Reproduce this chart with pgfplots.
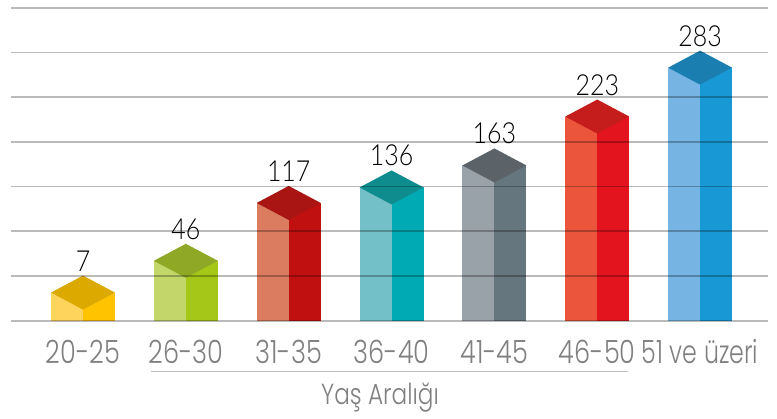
\documentclass[border=0pt]{standalone}
\usepackage{fontspec}
\usepackage{pgfplots}
\pgfplotsset{compat=1.18}
\newfontfamily\tickfont{Poppins Light}[FakeStretch=0.8]
\newfontfamily\tickfontn{Poppins Light}[FakeStretch=0.74]
\newfontfamily\valfont{Lato Light}[FakeStretch=0.86]
\definecolor{tickgray}{HTML}{808080}
\definecolor{lineg}{HTML}{BFBFBF}
\definecolor{aL}{HTML}{FFD45C}\definecolor{aR}{HTML}{FFC300}\definecolor{aT}{HTML}{DBA900}
\definecolor{bL}{HTML}{C2D669}\definecolor{bR}{HTML}{A5C818}\definecolor{bT}{HTML}{8FA826}
\definecolor{cL}{HTML}{DB7B5F}\definecolor{cR}{HTML}{C01010}\definecolor{cT}{HTML}{A81512}
\definecolor{dL}{HTML}{74C0C8}\definecolor{dR}{HTML}{00AAB5}\definecolor{dT}{HTML}{0F8C8E}
\definecolor{eL}{HTML}{9AA2A9}\definecolor{eR}{HTML}{66767E}\definecolor{eT}{HTML}{5B6368}
\definecolor{fL}{HTML}{EB553C}\definecolor{fR}{HTML}{E4141E}\definecolor{fT}{HTML}{C51C1C}
\definecolor{gL}{HTML}{75B4E3}\definecolor{gR}{HTML}{1899D5}\definecolor{gT}{HTML}{1A7FB0}
% #1 category position, #2 value, #3 left face, #4 right face, #5 top
\newcommand\prism[5]{%
  \pgfmathsetmacro\xl{#1-0.311}\pgfmathsetmacro\xr{#1+0.311}%
  \pgfmathsetmacro\vt{#2+20.86}\pgfmathsetmacro\vb{#2-20.86}%
  \edef\doit{%
    \noexpand\addplot[fill=#3,draw=none] coordinates {(\xl,-27.5) (\xl,#2) (#1,#2) (#1,-27.5)} --cycle;
    \noexpand\addplot[fill=#4,draw=none] coordinates {(#1,-27.5) (#1,#2) (\xr,#2) (\xr,-27.5)} --cycle;
    \noexpand\addplot[fill=#5,draw=none] coordinates {(\xl,#2) (#1,\vt) (\xr,#2) (#1,\vb)} --cycle;
    \noexpand\addplot[draw=none,mark=none,nodes near coords={\noexpand\valfont\noexpand\fontsize{29}{30}\noexpand\selectfont #2}] coordinates {(#1,#2)};
  }\doit}
\begin{document}
\begin{tikzpicture}
\begin{axis}[
  name=ax,
  scale only axis,
  width=757pt, height=320.7pt,
  xmin=-0.70, xmax=6.66,
  ymin=-27.5, ymax=366,
  axis on top,
  clip=false,
  axis line style={draw=none},
  major tick length=0pt,
  ytick={-27.5,27.35,82.2,137.05,191.9,246.75,301.6,356.45},
  yticklabels={},
  ymajorgrids,
  grid style={draw=black, opacity=0.27, line width=1.8pt},
  xtick={0,1,2,3,4,5,6},
  xticklabels={20-25,26-30,31-35,36-40,41-45,46-50,{\tickfontn 51 ve üzeri}},
  xticklabel style={anchor=base, yshift=-42.6pt, text=tickgray, font=\tickfont\fontsize{32}{36}\selectfont},
  xlabel={Yaş Aralığı},
  xlabel style={at={(axis description cs:0.4875,0)}, anchor=base, yshift=-84.3pt, text=tickgray, font=\tickfont\fontsize{29}{32}\selectfont},
  every node near coord/.style={anchor=base, yshift=21.5pt, text=black, inner sep=0pt},
]
\prism{0}{7}{aL}{aR}{aT}
\prism{1}{46}{bL}{bR}{bT}
\prism{2}{117}{cL}{cR}{cT}
\prism{3}{136}{dL}{dR}{dT}
\prism{4}{163}{eL}{eR}{eT}
\prism{5}{223}{fL}{fR}{fT}
\prism{6}{283}{gL}{gR}{gT}
\draw[lineg, line width=1.5pt] (axis description cs:0.185,-0.159) -- (axis description cs:0.815,-0.159);
\end{axis}
\pgfresetboundingbox
\path ([xshift=-11pt]ax.north west) rectangle ([xshift=9pt,yshift=-98.3pt]ax.south east);
\end{tikzpicture}
\end{document}
